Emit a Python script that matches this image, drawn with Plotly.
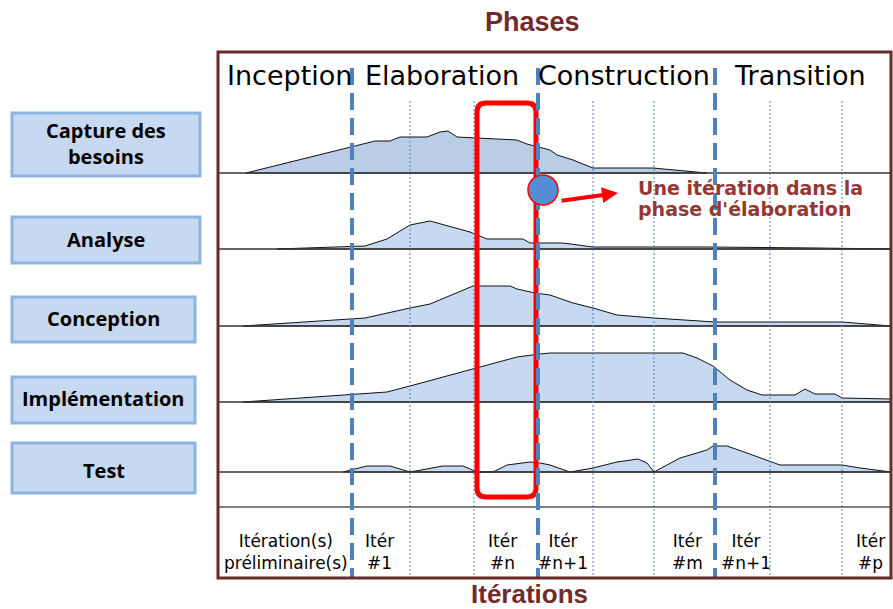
import plotly.graph_objects as go

# ---------------- data ----------------
W, H = 893, 609

disciplines = ["Capture des<br>besoins", "Analyse", "Conception", "Implémentation", "Test"]
phases = ["Inception", "Elaboration", "Construction", "Transition"]
iterations = ["Itération(s)<br>préliminaire(s)", "Itér<br>#1", "Itér<br>#n", "Itér<br>#n+1",
              "Itér<br>#m", "Itér<br>#n+1", "Itér<br>#p"]
note_lines = ["Une itération dans la", "phase d'élaboration"]

# effort curves: time position (horizontal) and effort height
capture_t = [246, 375, 390, 400, 427, 440, 448, 457, 477, 517, 527, 535, 550, 557, 573, 593, 653, 707]
capture_h = [0, 32, 32, 36, 36, 41, 42, 36, 35, 33, 29, 27, 23, 18, 13, 5, 5, 0]

analyse_t = [277, 350, 365, 387, 410, 430, 470, 487, 523, 530, 563, 593, 707, 817, 891]
analyse_h = [0, 2, 3, 10, 24, 28, 17, 10, 10, 6, 6, 2, 2, 1, 0]

conception_t = [243, 350, 365, 410, 430, 473, 510, 517, 535, 550, 573, 593, 617, 654, 715, 842, 891]
conception_h = [0, 7, 8, 18, 22, 40, 40, 37, 33, 31, 23, 18, 11, 8, 4, 4, 0]

implementation_t = [243, 350, 387, 410, 473, 517, 540, 550, 683, 697, 713, 720, 730, 747, 762,
                    795, 805, 815, 835, 842, 891]
implementation_h = [0, 7, 10, 16, 33, 45, 48, 49, 49, 44, 36, 30, 22, 12, 7, 7, 13, 8, 8, 4, 3]

test_t = [343, 367, 390, 410, 443, 463, 477, 493, 507, 530, 540, 550, 570, 593, 617, 638, 647,
          654, 680, 707, 713, 727, 747, 770, 780, 842, 860, 891]
test_h = [0, 6, 6, 0, 6, 6, 0, 0, 7, 10, 9, 7, 0, 4, 10, 13, 9, 0, 14, 22, 26, 26, 19, 11, 7, 7, 4, 0]

curves_t = [capture_t, analyse_t, conception_t, implementation_t, test_t]
curves_h = [capture_h, analyse_h, conception_h, implementation_h, test_h]

# ---------------- layout geometry ----------------
frame = dict(x0=218, x1=891, y0=52, y1=578)
baselines = [173, 249, 326, 402, 472]
sep_line = 507
phase_bounds = [352, 538, 715]
iter_bounds = [410, 474, 593, 654, 770, 842]
phase_label_x = [289, 442, 624, 800]
iter_label_x = [286, 379, 502, 563, 687, 746, 870]
boxes = [(12, 200, 113, 176), (12, 200, 217, 263), (12, 195, 297, 342), (12, 195, 377, 423), (12, 195, 443, 493)]
box_label_y = [143, 239, 318, 398, 470]

BROWN = "#6a2a28"
BLUE = "#4f81bd"
RED = "#ff0000"
TXTRED = "#953735"

fig = go.Figure()

fills = ["#b9cde5", "#c6d9f1", "#c6d9f1", "#c6d9f1", "#c6d9f1"]
for i, (ts, hs) in enumerate(zip(curves_t, curves_h)):
    b = baselines[i]
    xs = list(ts) + [ts[-1], ts[0]]
    ys = [b - h for h in hs] + [b, b]
    fig.add_trace(go.Scatter(x=xs, y=ys, mode="lines", fill="toself", fillcolor=fills[i],
                             line=dict(color="#111111", width=1), hoverinfo="skip", showlegend=False))

shapes = []
# left discipline boxes
for (x0, x1, y0, y1) in boxes:
    shapes.append(dict(type="rect", x0=x0, x1=x1, y0=y0, y1=y1, fillcolor="#c6d9f1",
                       line=dict(color="#8db3e2", width=3), layer="below"))
# baselines
for b in baselines:
    shapes.append(dict(type="line", x0=frame["x0"], x1=frame["x1"], y0=b, y1=b,
                       line=dict(color="#333333", width=1.6)))
shapes.append(dict(type="line", x0=frame["x0"], x1=frame["x1"], y0=sep_line, y1=sep_line,
                   line=dict(color="#555555", width=1.6)))
# thin iteration lines
for x in iter_bounds:
    shapes.append(dict(type="line", x0=x, x1=x, y0=101, y1=frame["y1"],
                       line=dict(color=BLUE, width=1, dash="2px,2px")))
# red rounded rectangle (selected iteration)
rx0, rx1, ry0, ry1, r = 477, 536, 103, 497, 9
path = (f"M {rx0+r},{ry0} L {rx1-r},{ry0} Q {rx1},{ry0} {rx1},{ry0+r} L {rx1},{ry1-r} "
        f"Q {rx1},{ry1} {rx1-r},{ry1} L {rx0+r},{ry1} Q {rx0},{ry1} {rx0},{ry1-r} "
        f"L {rx0},{ry0+r} Q {rx0},{ry0} {rx0+r},{ry0} Z")
shapes.append(dict(type="path", path=path, line=dict(color=RED, width=5)))
# phase boundaries
for x in phase_bounds:
    shapes.append(dict(type="line", x0=x, x1=x, y0=68, y1=frame["y1"],
                       line=dict(color=BLUE, width=4, dash="17px,8px")))
# frame
shapes.append(dict(type="rect", **frame, line=dict(color=BROWN, width=3)))
# circle marking an iteration
shapes.append(dict(type="circle", x0=528, x1=558, y0=175, y1=205, fillcolor="#558ed5",
                   line=dict(color=RED, width=1.5)))

annotations = []
annotations.append(dict(x=532, y=22, text="<b>Phases</b>", showarrow=False,
                        font=dict(family="Liberation Sans, Arial", size=27, color="#722b2a")))
annotations.append(dict(x=529, y=594, text="<b>Itérations</b>", showarrow=False,
                        font=dict(family="Liberation Sans, Arial", size=26, color="#722b2a")))
for name, x in zip(phases, phase_label_x):
    annotations.append(dict(x=x, y=75, text=name, showarrow=False,
                            font=dict(family="DejaVu Sans", size=27, color="#000000")))
for name, x in zip(iterations, iter_label_x):
    annotations.append(dict(x=x, y=552, text=name, showarrow=False,
                            font=dict(family="DejaVu Sans", size=17, color="#000000")))
for (x0, x1, y0, y1), name, y in zip(boxes, disciplines, box_label_y):
    annotations.append(dict(x=(x0 + x1) / 2, y=y, text=f"<b>{name}</b>", showarrow=False,
                            font=dict(family="Open Sans", size=20, color="#000000")))
for line, y in zip(note_lines, [188, 209]):
    annotations.append(dict(x=636, y=y, xanchor="left", align="left", showarrow=False,
                            text=f"<b>{line}</b>",
                            font=dict(family="DejaVu Sans", size=19, color=TXTRED)))
annotations.append(dict(x=618, y=193, ax=560, ay=201, axref="x", ayref="y",
                        showarrow=True, arrowhead=2, arrowsize=0.8, arrowwidth=4,
                        arrowcolor=RED, text=""))
for a in annotations:
    a.setdefault("xref", "x")
    a.setdefault("yref", "y")

fig.update_layout(
    width=W, height=H, margin=dict(l=0, r=0, t=0, b=0),
    paper_bgcolor="white", plot_bgcolor="white",
    xaxis=dict(range=[0, W], visible=False, fixedrange=True),
    yaxis=dict(range=[H, 0], visible=False, fixedrange=True),
    shapes=shapes, annotations=annotations, showlegend=False,
)

fig.write_html("out.html", config={"displayModeBar": False},
               post_script="document.body.style.margin='0px';")
